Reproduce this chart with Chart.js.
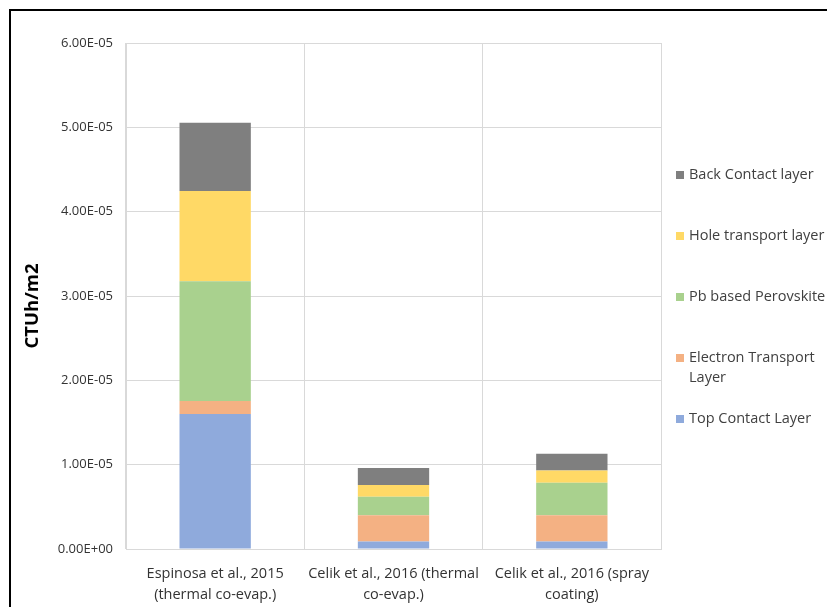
<!DOCTYPE html>
<html>
<head>
<meta charset="utf-8">
<script src="https://cdn.jsdelivr.net/npm/chart.js@4/dist/chart.umd.min.js"></script>
<style>
  html, body { margin: 0; padding: 0; background: #ffffff; }
  #wrap { position: relative; width: 827px; height: 607px; overflow: hidden; }
  canvas { display: block; }
</style>
</head>
<body>
<div id="wrap"><canvas id="c" width="827" height="607"></canvas></div>
<script>
// Studies compared
const categories = [
  ['Espinosa et al., 2015', '(thermal co-evap.)'],
  ['Celik et al., 2016 (thermal', 'co-evap.)'],
  ['Celik et al., 2016 (spray', 'coating)']
];

// Layer contributions (CTUh/m2), stacked bottom to top
const topContactLayer         = [1.60e-5, 0.09e-5, 0.09e-5];
const electronTransportLayer  = [0.155e-5, 0.31e-5, 0.31e-5];
const pbBasedPerovskite       = [1.42e-5, 0.22e-5, 0.385e-5];
const holeTransportLayer      = [1.07e-5, 0.14e-5, 0.145e-5];
const backContactLayer        = [0.81e-5, 0.20e-5, 0.20e-5];

const seriesNames = ['Top Contact Layer', 'Electron Transport Layer', 'Pb based Perovskite', 'Hole transport layer', 'Back Contact layer'];
const seriesColors = ['#8faadc', '#f4b183', '#a9d18e', '#ffd966', '#7f7f7f'];
const seriesValues = [topContactLayer, electronTransportLayer, pbBasedPerovskite, holeTransportLayer, backContactLayer];

// Y axis
const yMin = 0, yMax = 6e-5, yStep = 1e-5;
const yTitle = 'CTUh/m2';

const FONT = '"Open Sans", "Liberation Sans", sans-serif';
const TEXT = '#333333';
const GRID = '#d9d9d9';

function sci(v) {
  // 6.00E-05 style
  if (Math.abs(v) < 1e-20) return '0.00E+00';
  const e = Math.floor(Math.log10(Math.abs(v)) + 1e-9);
  const m = v / Math.pow(10, e);
  const sign = e < 0 ? '-' : '+';
  const ee = String(Math.abs(e)).padStart(2, '0');
  return m.toFixed(2) + 'E' + sign + ee;
}

// Outer frame lines, y title and the right-hand legend
const decor = {
  id: 'decor',
  afterDraw(chart) {
    const ctx = chart.ctx;
    const area = chart.chartArea;
    ctx.save();
    // frame
    ctx.fillStyle = '#000000';
    ctx.fillRect(9, 9, 2, chart.height - 9);
    ctx.fillRect(9, 9, chart.width - 9, 2);

    // y axis title
    ctx.save();
    ctx.translate(33, (area.top + area.bottom) / 2 + 10);
    ctx.rotate(-Math.PI / 2);
    ctx.font = 'bold 18.5px ' + FONT;
    ctx.fillStyle = '#000000';
    ctx.textAlign = 'center';
    ctx.textBaseline = 'middle';
    ctx.fillText(yTitle, 0, 0);
    ctx.restore();

    // legend (reverse order, top series first)
    ctx.font = '14.5px ' + FONT;
    ctx.textAlign = 'left';
    ctx.textBaseline = 'middle';
    const x0 = area.right + 15;
    const yStart = 175, gapY = 61, lineH = 20, maxW = 150;
    const ds = chart.data.datasets;
    for (let k = 0; k < ds.length; k++) {
      const d = ds[ds.length - 1 - k];
      const y = yStart + k * gapY;
      ctx.fillStyle = d.backgroundColor;
      ctx.fillRect(x0, y - 4, 8, 8);
      // wrap text
      const words = d.label.split(' ');
      const lines = [];
      let cur = '';
      for (const w of words) {
        const t = cur ? cur + ' ' + w : w;
        if (cur && ctx.measureText(t).width > maxW) { lines.push(cur); cur = w; }
        else cur = t;
      }
      if (cur) lines.push(cur);
      ctx.fillStyle = '#404040';
      lines.forEach((ln, i) => ctx.fillText(ln, x0 + 13, y + i * lineH));
    }
    ctx.restore();
  }
};

const datasets = seriesNames.map((name, i) => ({
  label: name,
  data: seriesValues[i],
  backgroundColor: seriesColors[i],
  borderWidth: 0,
  categoryPercentage: 1.0,
  barPercentage: 0.4
}));

new Chart(document.getElementById('c'), {
  type: 'bar',
  data: { labels: categories, datasets },
  options: {
    responsive: false,
    animation: false,
    layout: { padding: { left: 0, top: 43, right: 166, bottom: 0 } },
    plugins: { legend: { display: false }, tooltip: { enabled: false } },
    scales: {
      x: {
        stacked: true,
        grid: { color: GRID, lineWidth: 1, drawTicks: false, offset: true },
        border: { color: GRID, width: 1 },
        ticks: {
          color: TEXT,
          font: { family: FONT, size: 14.5, lineHeight: 1.45 },
          padding: 14,
          maxRotation: 0,
          autoSkip: false
        },
        afterFit(scale) { scale.height = 58; }
      },
      y: {
        stacked: true,
        min: yMin, max: yMax,
        grid: { color: GRID, lineWidth: 1, drawTicks: false },
        border: { color: GRID, width: 1 },
        ticks: {
          stepSize: yStep,
          color: TEXT,
          font: { family: FONT, size: 13 },
          padding: 13,
          callback: (v) => sci(v)
        },
        afterFit(scale) { scale.width = 126; }
      }
    }
  },
  plugins: [decor]
});
</script>
</body>
</html>
